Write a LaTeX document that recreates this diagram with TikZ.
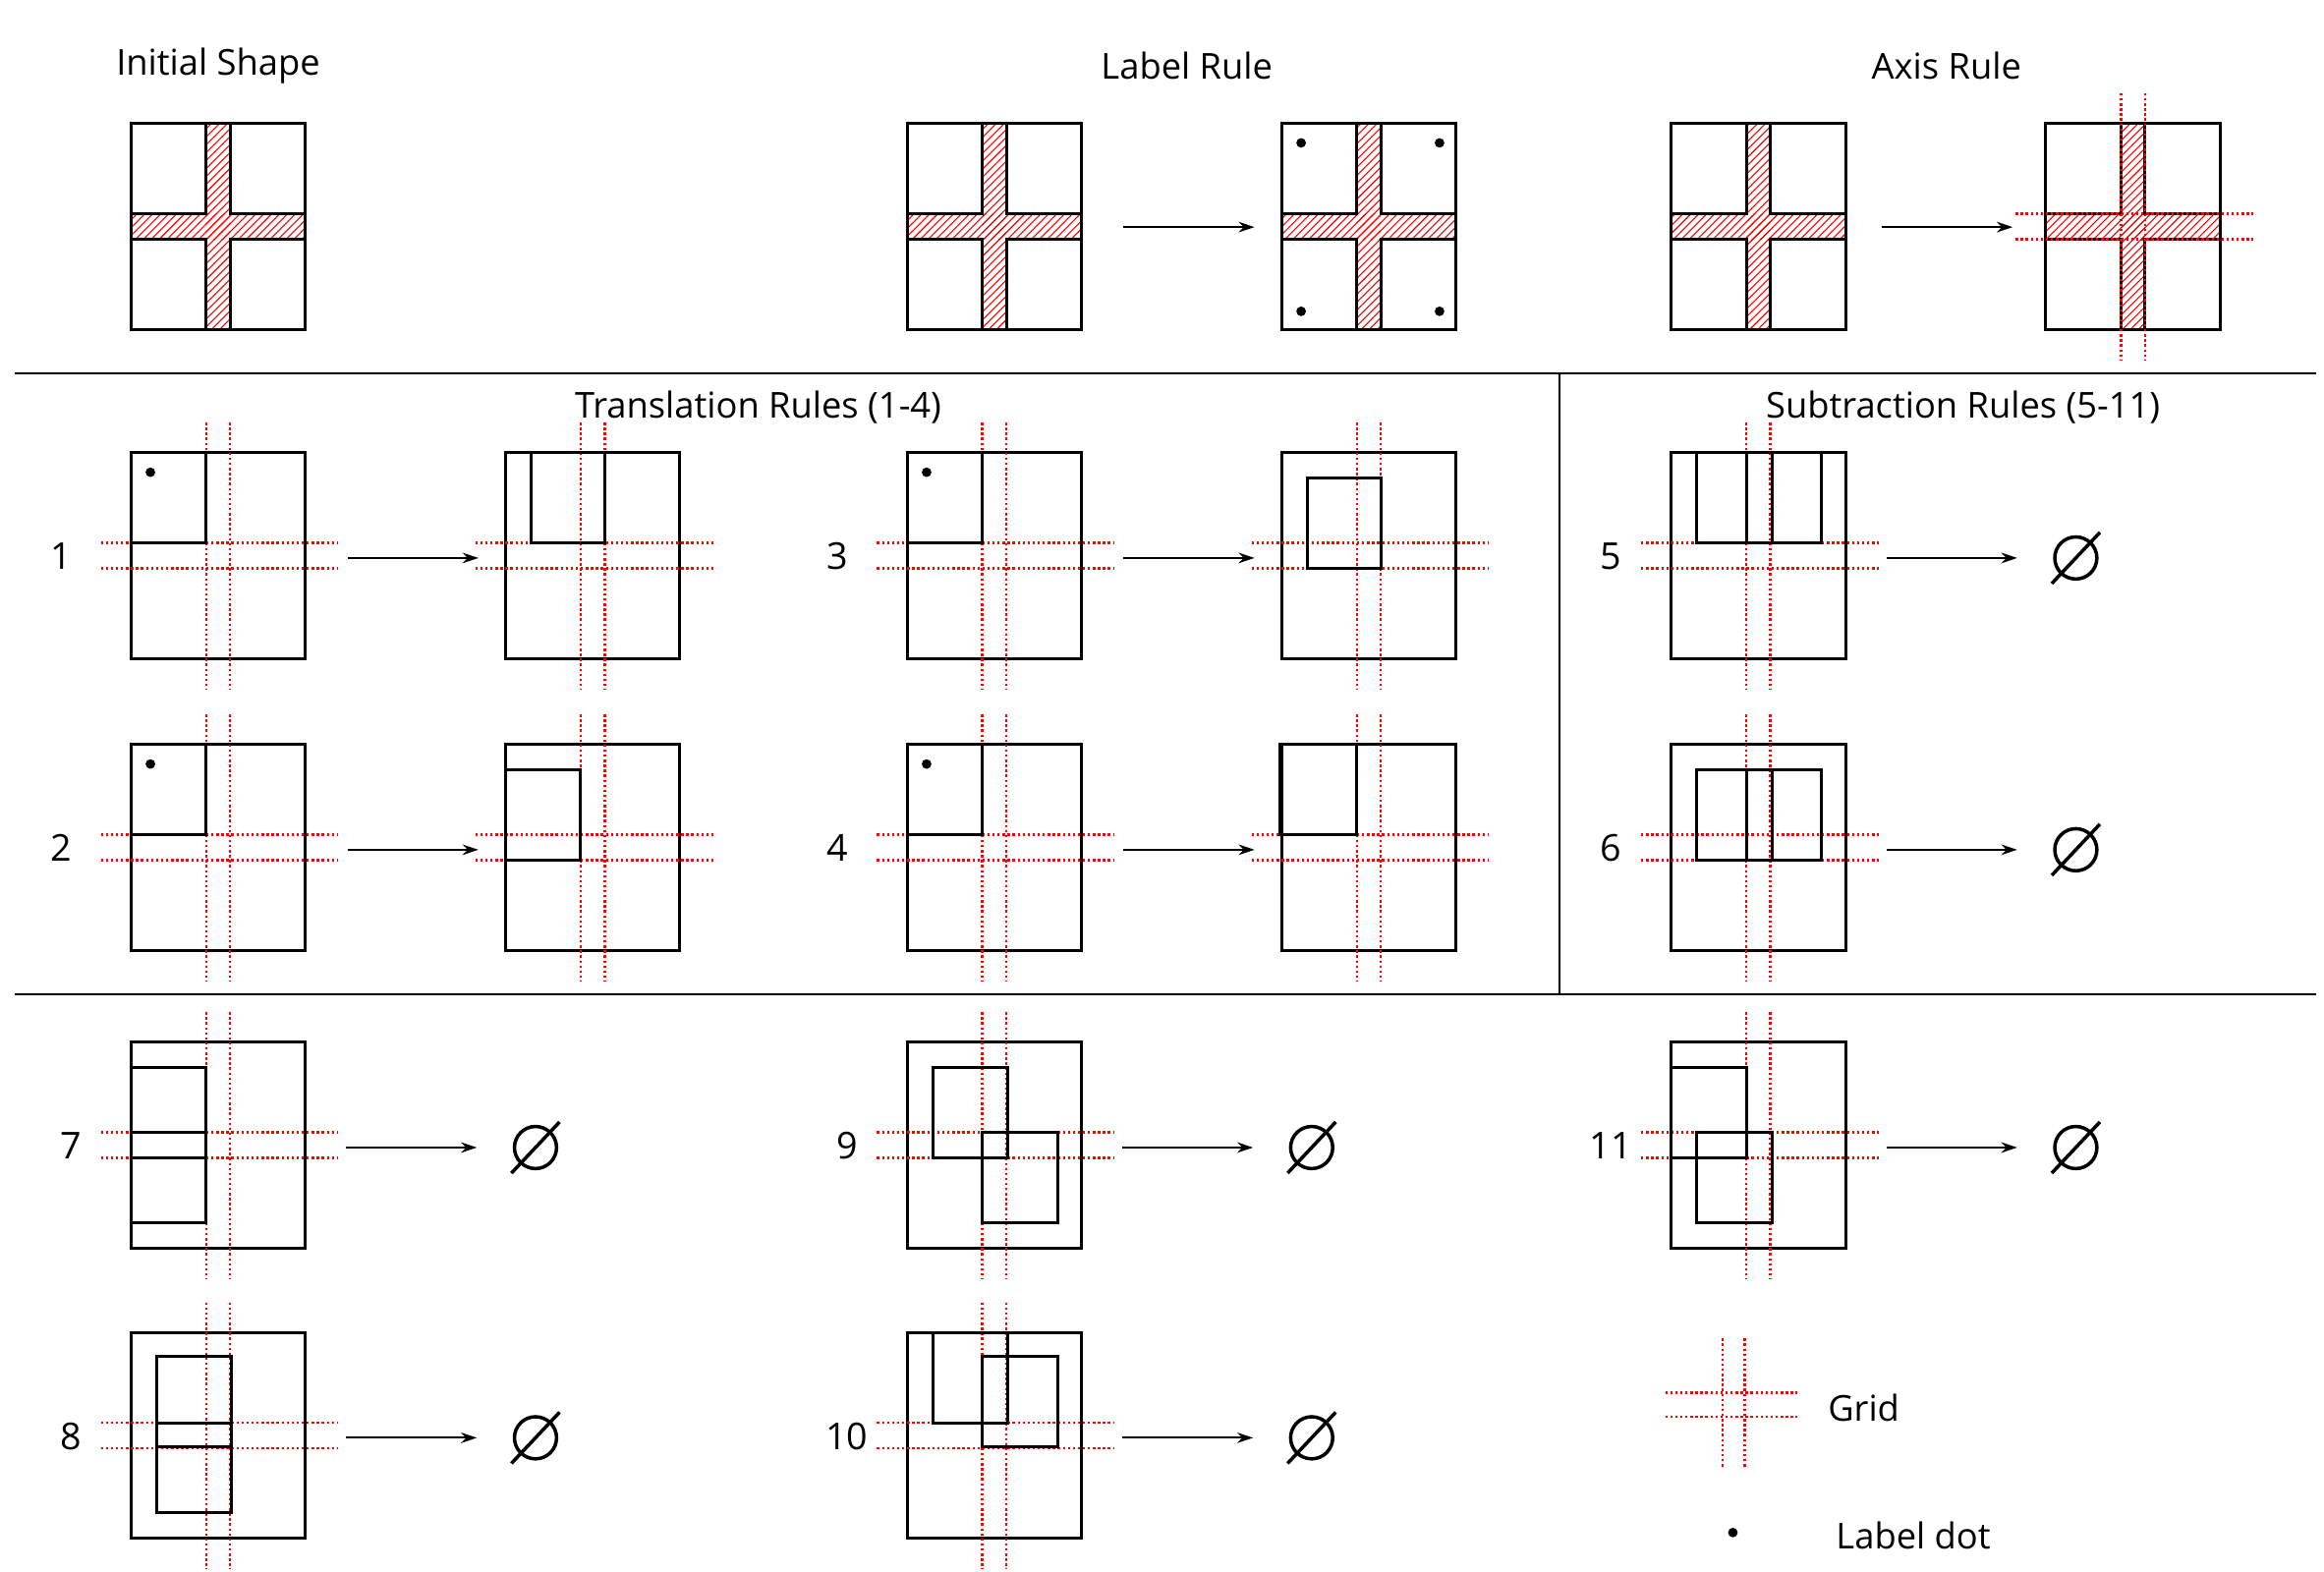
\documentclass[tikz,border=0pt]{standalone}
\usepackage{fontspec}
\setmainfont{Open Sans}
\usetikzlibrary{patterns,arrows.meta}
\begin{document}
\begin{tikzpicture}[x=0.02cm,y=-0.02cm,
  sq/.style={draw=black,line width=1.1pt},
  inner/.style={draw=black,line width=1.1pt},
  grid/.style={draw=red,densely dotted,line width=0.9pt},
  arr/.style={draw=black,line width=0.7pt,-{Stealth[length=6pt,width=4pt]}},
  ttl/.style={font=\fontsize{13.5}{16}\selectfont},
  num/.style={font=\fontsize{14}{16}\selectfont},
  es/.style={circle,draw=black,line width=1.3pt,minimum size=0.56cm,inner sep=0pt}]
\useasboundingbox (0,0) rectangle (1545,1045);
\newcommand{\gridat}[2]{%
  \draw[grid] (#1+50,#2-20) -- (#1+50,#2+157);
  \draw[grid] (#1+66,#2-20) -- (#1+66,#2+157);
  \draw[grid] (#1-20,#2+60) -- (#1+138,#2+60);
  \draw[grid] (#1-20,#2+77) -- (#1+138,#2+77);}
\newcommand{\cross}[2]{%
  \fill[white] (#1,#2) rectangle ++(116,137);
  \path[pattern=north east lines,pattern color=red] (#1+50,#2) rectangle (#1+66,#2+137);
  \path[pattern=north east lines,pattern color=red] (#1,#2+60) rectangle (#1+116,#2+77);
  \draw[sq] (#1,#2) rectangle ++(116,137);
  \draw[line width=1.1pt] (#1+50,#2) -- (#1+50,#2+60) -- (#1,#2+60) (#1,#2+77) -- (#1+50,#2+77) -- (#1+50,#2+137) (#1+66,#2+137) -- (#1+66,#2+77) -- (#1+116,#2+77) (#1+116,#2+60) -- (#1+66,#2+60) -- (#1+66,#2);}
% titles
\node[ttl] (t1) at (145,44) {Initial Shape};
\node[ttl] (t2) at (789,44) {Label Rule};
\node[ttl] (t3) at (1294,44) {Axis Rule};
\node[ttl] (t4) at (504,271) {Translation Rules (1-4)};
\node[ttl] (t5) at (1305,271) {Subtraction Rules (5-11)};
% separators
\draw[line width=0.7pt] (10,248) -- (1540,248);
\draw[line width=0.7pt] (10,661) -- (1540,661);
\draw[line width=0.7pt] (1037,248) -- (1037,661);
% top row
\cross{87}{82}
\cross{603}{82}
\cross{852}{82}
\foreach \p in {(865,95),(957,95),(865,207),(957,207)} \fill \p circle (3.2);
\coordinate (la) at (747,151); \coordinate (lb) at (834,151);
\draw[arr] (la) -- (lb);
\cross{1111}{82}
\cross{1360}{82}
\gridat{1360}{82}
\coordinate (aa) at (1251,151); \coordinate (ab) at (1338,151);
\draw[arr] (aa) -- (ab);
% translation rules
\foreach \x/\y/\n in {87/301/1,87/495/2,603/301/3,603/495/4}{
  \draw[sq] (\x,\y) rectangle ++(116,137);
  \gridat{\x}{\y}
  \draw[inner] (\x,\y) rectangle ++(50,60);
  \fill (\x+13,\y+13) circle (3.2);
  \node[num] at (\x-46,\y+69) {\n};
  \coordinate (s\n) at (\x+144,\y+70); \coordinate (e\n) at (\x+231,\y+70);
  \draw[arr] (s\n) -- (e\n);
  \draw[sq] (\x+249,\y) rectangle ++(116,137);
  \gridat{\x+249}{\y}
}
\draw[inner] (353,301) rectangle (402,361);
\draw[inner] (336,512) rectangle (386,572);
\draw[inner] (869,318) rectangle (918,378);
\draw[inner] (851,495) rectangle (902,555);
% subtraction rules
\foreach \x/\y/\n in {1111/301/5,1111/495/6,87/693/7,87/886/8,603/693/9,603/886/10,1111/693/11}{
  \draw[sq] (\x,\y) rectangle ++(116,137);
  \gridat{\x}{\y}
  \node[num] at (\x-40,\y+69) {\n};
  \coordinate (s\n) at (\x+143,\y+70); \coordinate (e\n) at (\x+230,\y+70);
  \draw[arr] (s\n) -- (e\n);
  \node[es] (z\n) at (\x+269,\y+70) {};
  \draw[line width=1.3pt] (\x+253,\y+87) -- (\x+285,\y+53);
}
\draw[inner] (1128,301) rectangle (1178,361); \draw[inner] (1161,301) rectangle (1211,361);
\draw[inner] (1128,512) rectangle (1178,572); \draw[inner] (1161,512) rectangle (1211,572);
\draw[inner] (87,710) rectangle (137,770); \draw[inner] (87,753) rectangle (137,813);
\draw[inner] (104,902) rectangle (154,962); \draw[inner] (104,946) rectangle (154,1006);
\draw[inner] (620,710) rectangle (670,770); \draw[inner] (653,753) rectangle (703,813);
\draw[inner] (620,886) rectangle (670,946); \draw[inner] (653,902) rectangle (703,962);
\draw[inner] (1111,710) rectangle (1161,770); \draw[inner] (1128,753) rectangle (1178,813);
% legend
\draw[grid] (1145,890) -- (1145,976); \draw[grid] (1160,890) -- (1160,976);
\draw[grid] (1107,926) -- (1195,926); \draw[grid] (1107,942) -- (1195,942);
\node[ttl] (lg) at (1239,936) {Grid};
\fill (1152,1019) circle (3.2);
\node[ttl] (ld) at (1272,1021) {Label dot};
\end{tikzpicture}
\end{document}
